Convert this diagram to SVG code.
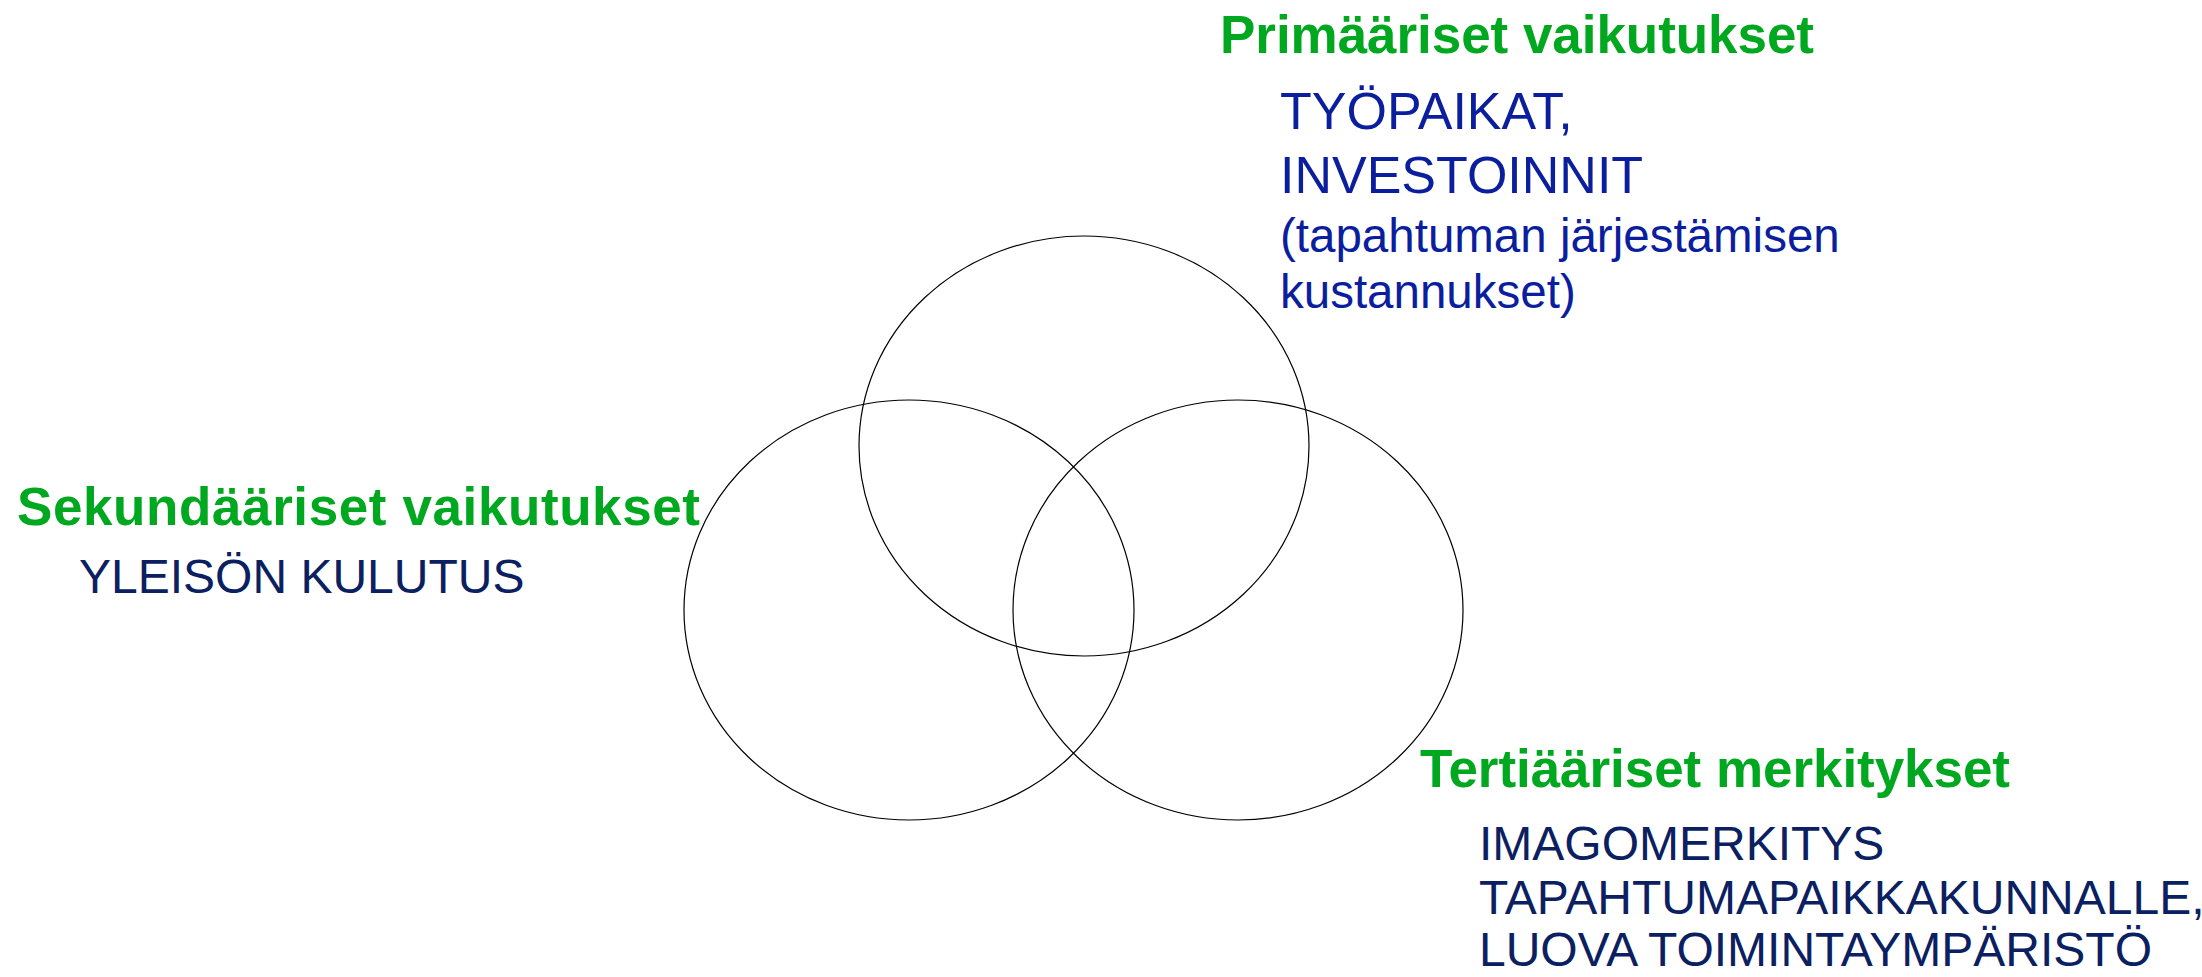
<svg xmlns="http://www.w3.org/2000/svg" width="2202" height="977" viewBox="0 0 2202 977">
<style>
.c{fill:none;stroke:#000;stroke-width:1.2}
.h{font-family:"Liberation Sans",Arial,sans-serif;font-weight:bold;font-size:53px;fill:#00A820}
.b{font-family:"Liberation Sans",Arial,sans-serif;fill:#0A1E9E}
.n{font-family:"Liberation Sans",Arial,sans-serif;font-size:48px;fill:#0A2060}
</style>
<rect width="2202" height="977" fill="#fff"/>
<g id="circles">
<ellipse id="top" class="c" cx="1084" cy="446" rx="225" ry="210"/>
<ellipse id="left" class="c" cx="909" cy="610" rx="225" ry="210"/>
<ellipse id="right" class="c" cx="1238" cy="610" rx="225" ry="210"/>
</g>
<g id="primary">
<text class="h" x="1220" y="53" textLength="594">Primääriset vaikutukset</text>
<text class="b" x="1280" y="129" font-size="52">TYÖPAIKAT,</text>
<text class="b" x="1280" y="193" font-size="52">INVESTOINNIT</text>
<text class="b" x="1280" y="252" font-size="47.5">(tapahtuman järjestämisen</text>
<text class="b" x="1280" y="308" font-size="47.5">kustannukset)</text>
</g>
<g id="secondary">
<text class="h" x="17" y="525" textLength="683">Sekundääriset vaikutukset</text>
<text class="n" x="79" y="593">YLEISÖN KULUTUS</text>
</g>
<g id="tertiary">
<text class="h" x="1420" y="787" textLength="590">Tertiääriset merkitykset</text>
<text class="n" x="1479" y="860">IMAGOMERKITYS</text>
<text class="n" x="1479" y="914">TAPAHTUMAPAIKKAKUNNALLE,</text>
<text class="n" x="1479" y="966">LUOVA TOIMINTAYMPÄRISTÖ</text>
</g>
</svg>
